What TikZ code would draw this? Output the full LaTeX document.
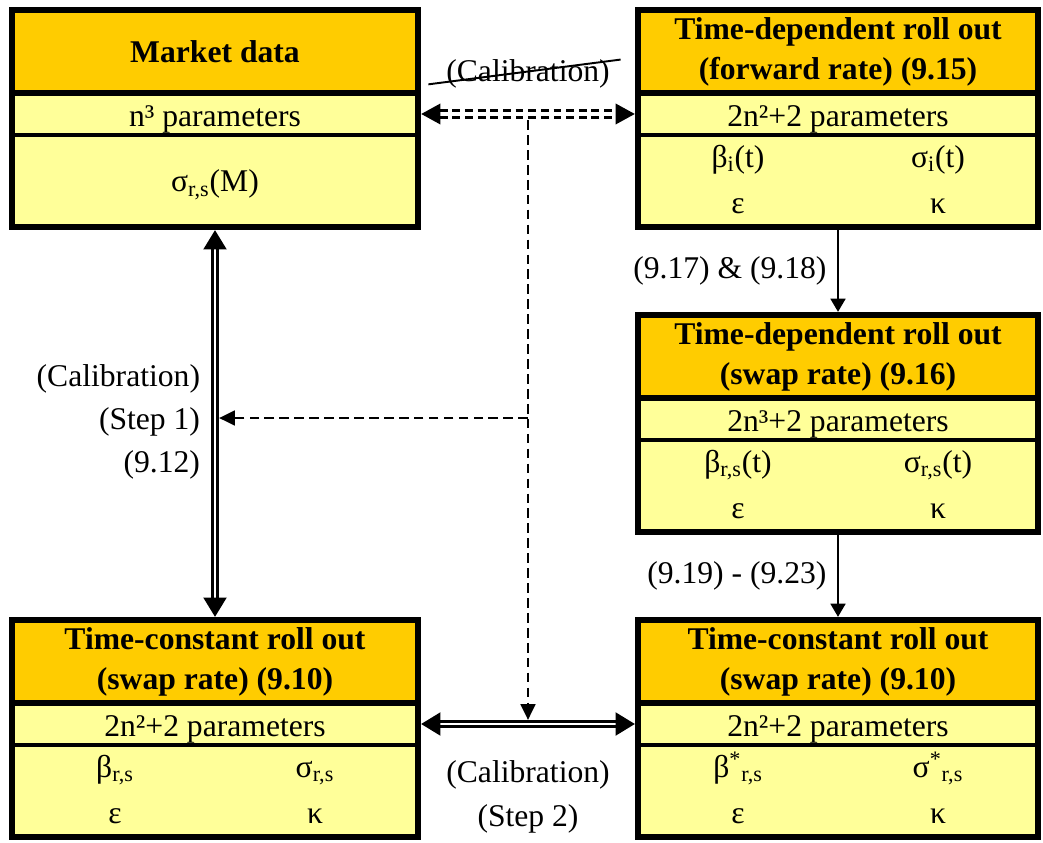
\documentclass[tikz,border=0pt]{standalone}
\usepackage{fontspec}
\setmainfont{Liberation Serif}
\usepackage{array}
\usetikzlibrary{arrows.meta, positioning, calc}
\definecolor{hdrorange}{HTML}{FFCC00}
\definecolor{parmyellow}{HTML}{FFFF99}
\newcolumntype{C}{>{\centering\arraybackslash}p{4cm}}
\renewcommand{\arraystretch}{1.15}

\begin{document}
\begin{tikzpicture}[x=0.02cm, y=-0.02cm, font=\fontsize{18}{22.7}\selectfont,
	title/.style={fill=hdrorange, minimum height=1.66cm, align=center, inner sep=0pt, outer sep=0pt, font=\fontsize{18}{22.7}\selectfont\bfseries},
	parline/.style={fill=parmyellow, minimum height=0.84cm, text height=15pt, text depth=1pt, inner sep=0pt, outer sep=0pt},
	valcell/.style={fill=parmyellow, minimum height=1.84cm, inner sep=0pt, outer sep=0pt},
	lcol/.style={minimum width=8.12cm},
	rcol/.style={minimum width=8cm},
	frame/.style={line width=3.6pt},
	thinrule/.style={line width=2.2pt},
	calarrow/.style={double, double distance=1.7pt, line width=1.5pt, >={Triangle[width=13pt,length=11pt]}, <->, shorten <=1.8pt, shorten >=1.8pt},
	dashlink/.style={double, double distance=2.4pt, line width=1.8pt, dash pattern=on 4.5pt off 2.7pt, >={Triangle[width=11.5pt,length=11pt]}, <->, shorten <=1.8pt, shorten >=1.8pt},
	hintarrow/.style={line width=1.1pt, dash pattern=on 5.5pt off 3pt, >={Triangle[width=8.5pt,length=9pt]}, ->},
	rollarrow/.style={line width=1.1pt, >={Triangle[width=8.5pt,length=7.5pt]}, ->, shorten <=1.8pt, shorten >=1.8pt}]
		\useasboundingbox (0,0) rectangle (1043,842);

		% Market data
		\node[title, lcol] (mkt) at (215,51.5) {Market data};
		\node[parline, lcol, below=0pt of mkt] (mktpar) {n³ parameters};
		\node[valcell, lcol, below=0pt of mktpar, text height=15pt, text depth=3pt] (mktval) {σ\textsubscript{r,s}(M)};
		\draw[frame] (mkt.north west) rectangle (mktval.south east);
		\draw[frame] (mkt.south west) -- (mkt.south east);
		\draw[thinrule] (mktpar.south west) -- (mktpar.south east);

		% Time-dependent roll out, forward rate
		\node[title, rcol] (fwd) at (838,51.5) {Time-dependent roll out\\(forward rate) (9.15)};
		\node[parline, rcol, below=0pt of fwd] (fwdpar) {2n²+2 parameters};
		\node[valcell, rcol, below=0pt of fwdpar] (fwdval) {\begin{tabular}{@{}C@{}C@{}} β\textsubscript{i}(t) & σ\textsubscript{i}(t)\\ ε & κ \end{tabular}};
		\draw[frame] (fwd.north west) rectangle (fwdval.south east);
		\draw[frame] (fwd.south west) -- (fwd.south east);
		\draw[thinrule] (fwdpar.south west) -- (fwdpar.south east);

		% Time-dependent roll out, swap rate
		\node[title, rcol] (swp) at (838,356.5) {Time-dependent roll out\\(swap rate) (9.16)};
		\node[parline, rcol, below=0pt of swp] (swppar) {2n³+2 parameters};
		\node[valcell, rcol, below=0pt of swppar] (swpval) {\begin{tabular}{@{}C@{}C@{}} β\textsubscript{r,s}(t) & σ\textsubscript{r,s}(t)\\ ε & κ \end{tabular}};
		\draw[frame] (swp.north west) rectangle (swpval.south east);
		\draw[frame] (swp.south west) -- (swp.south east);
		\draw[thinrule] (swppar.south west) -- (swppar.south east);

		% Time-constant roll out (left)
		\node[title, lcol] (tcl) at (215,661.5) {Time-constant roll out\\(swap rate) (9.10)};
		\node[parline, lcol, below=0pt of tcl] (tclpar) {2n²+2 parameters};
		\node[valcell, lcol, below=0pt of tclpar] (tclval) {\begin{tabular}{@{}C@{}C@{}} β\textsubscript{r,s} & σ\textsubscript{r,s}\\ ε & κ \end{tabular}};
		\draw[frame] (tcl.north west) rectangle (tclval.south east);
		\draw[frame] (tcl.south west) -- (tcl.south east);
		\draw[thinrule] (tclpar.south west) -- (tclpar.south east);

		% Time-constant roll out (right)
		\node[title, rcol] (tcr) at (838,661.5) {Time-constant roll out\\(swap rate) (9.10)};
		\node[parline, rcol, below=0pt of tcr] (tcrpar) {2n²+2 parameters};
		\node[valcell, rcol, below=0pt of tcrpar] (tcrval) {\begin{tabular}{@{}C@{}C@{}} β\textsuperscript{*}\textsubscript{r,s} & σ\textsuperscript{*}\textsubscript{r,s}\\ ε & κ \end{tabular}};
		\draw[frame] (tcr.north west) rectangle (tcrval.south east);
		\draw[frame] (tcr.south west) -- (tcr.south east);
		\draw[thinrule] (tcrpar.south west) -- (tcrpar.south east);

		% Roll out steps on the right
		\draw[rollarrow] (fwdval.south) -- (swp.north) node[midway, left, inner sep=6pt] {(9.17) \& (9.18)};
		\draw[rollarrow] (swpval.south) -- (tcr.north) node[midway, left, inner sep=6pt] {(9.19) - (9.23)};

		% Calibration links
		\coordinate (topmid) at ($(mktpar.east)!0.5!(fwdpar.west)$);
		\coordinate (botmid) at ($(tclpar.east)!0.5!(tcrpar.west)$);
		\coordinate (stepone) at (topmid |- 0,418);
		\draw[hintarrow] ([yshift=-3.5pt]topmid) -- ([yshift=2.35pt]botmid);
		\draw[hintarrow] (stepone) -- ([xshift=2.35pt]mktval.south |- stepone);
		\draw[dashlink] (mktpar.east) -- (fwdpar.west);
		\draw[calarrow] (mktval.south) -- (tcl.north);
		\draw[calarrow] (tclpar.east) -- (tcrpar.west);

		% Labels of the calibration links
		\node[above=0.4cm of topmid] (caltop) {(Calibration)};
		\draw[line width=1.1pt] ([shift={(-56.7pt,-6.2pt)}]caltop.center) -- ([shift={(52.7pt,7.9pt)}]caltop.center);
		\node[align=right, anchor=east, font=\fontsize{18}{24.4}\selectfont] (stepnote) at ([xshift=-5pt, yshift=-2.2pt]mktval.south |- stepone) {(Calibration)\\(Step 1)\\(9.12)};
		\node[align=center, below=0.6cm of botmid, font=\fontsize{18}{25.5}\selectfont] (steptwo) {(Calibration)\\(Step 2)};

	\end{tikzpicture}
\end{document}
